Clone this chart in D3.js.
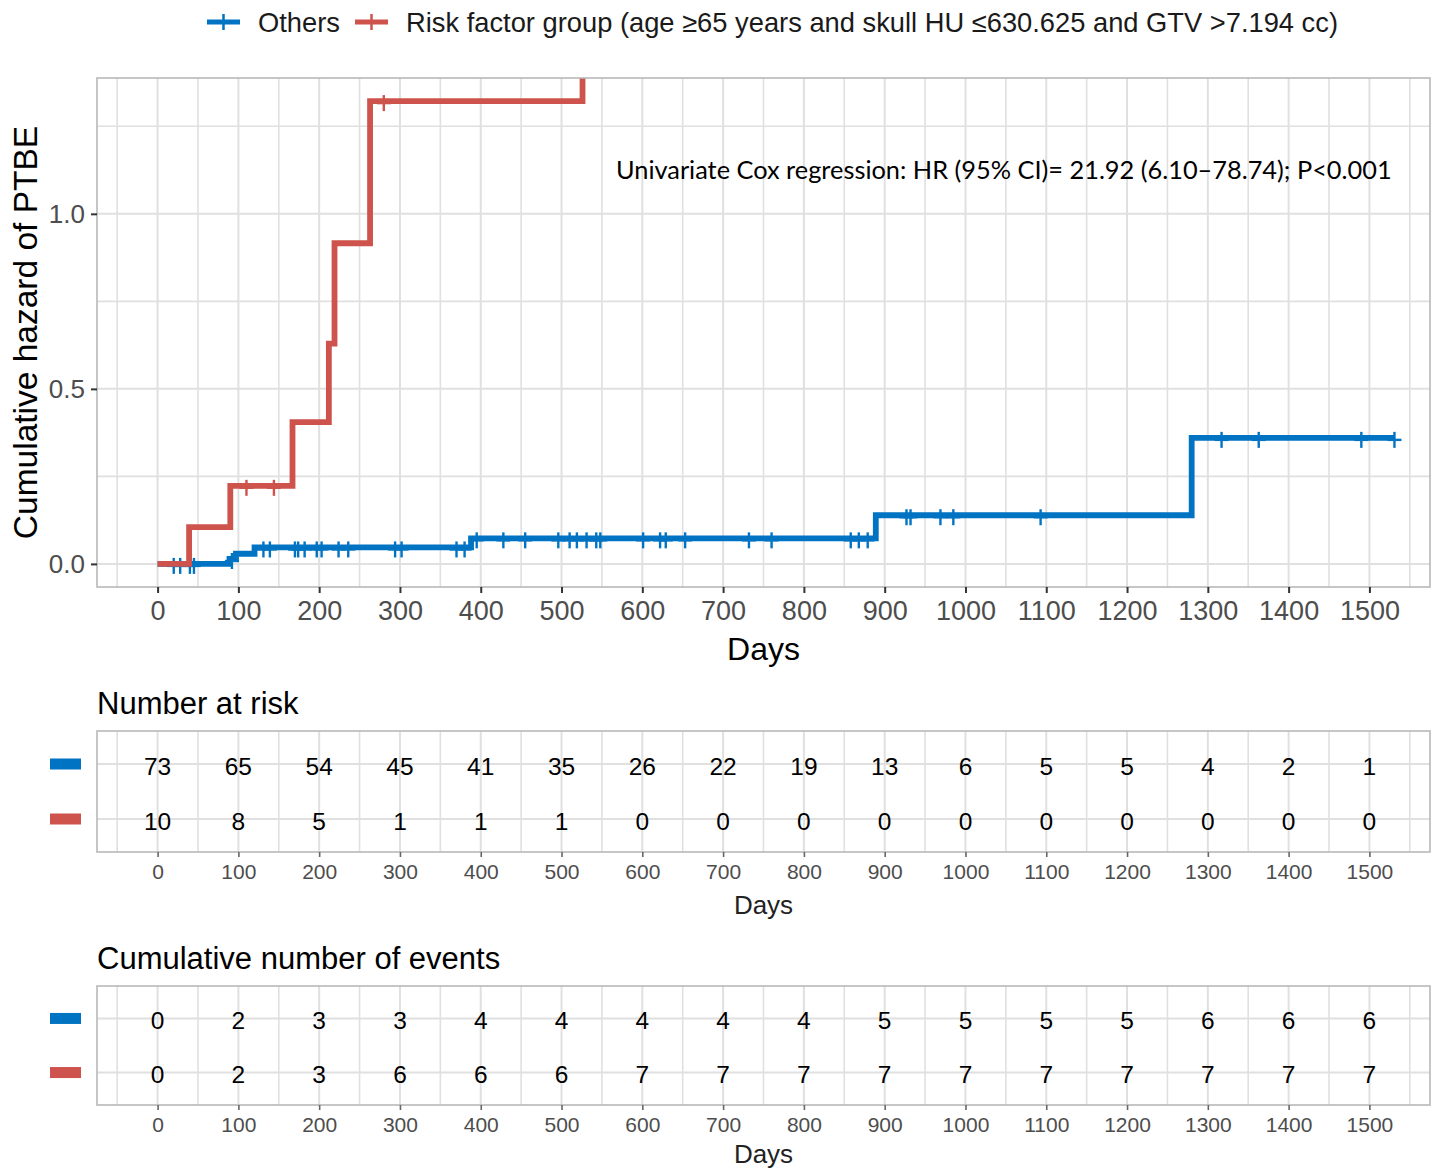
<!DOCTYPE html>
<html>
<head>
<meta charset="utf-8">
<script src="https://cdn.jsdelivr.net/npm/d3@7"></script>
<style>
  html, body { margin: 0; padding: 0; background: #fff; }
  svg { display: block; }
  text { font-family: "Liberation Sans", Arial, sans-serif; }
</style>
</head>
<body>
<svg id="chart" width="1434" height="1170"></svg>
<script>
// ---------------- DATA ----------------
const groups = ["Others", "Risk factor group (age \u226565 years and skull HU \u2264630.625 and GTV >7.194 cc)"];
const groupColors = ["#0073C2", "#CD534C"];
const timeTicks = [0, 100, 200, 300, 400, 500, 600, 700, 800, 900, 1000, 1100, 1200, 1300, 1400, 1500];
const hazardTicks = [0, 0.5, 1.0];

// step curves (time of step, cumulative hazard after the step)
const othersTimes  = [0, 89, 97, 120, 388, 889, 1280, 1531];
const othersHazard = [0, 0.014, 0.029, 0.047, 0.073, 0.139, 0.36, 0.36];
const riskTimes    = [0, 39, 90, 167, 212, 219, 263, 526];
const riskHazard   = [0, 0.105, 0.223, 0.405, 0.629, 0.916, 1.322, Infinity];

// censoring times
const othersCensor = [20, 28, 40, 45, 92, 131, 139, 170, 174, 182, 197, 203, 224, 236, 294, 302,
  370, 380, 395, 428, 455, 496, 510, 519, 531, 543, 548, 601, 622, 629, 653, 732, 760, 858, 868,
  879, 927, 932, 969, 985, 1093, 1317, 1363, 1490, 1531];
const riskCensor = [110, 144, 280];

// tables
const riskOthers   = [73, 65, 54, 45, 41, 35, 26, 22, 19, 13, 6, 5, 5, 4, 2, 1];
const riskRisk     = [10, 8, 5, 1, 1, 1, 0, 0, 0, 0, 0, 0, 0, 0, 0, 0];
const eventsOthers = [0, 2, 3, 3, 4, 4, 4, 4, 4, 5, 5, 5, 5, 6, 6, 6];
const eventsRisk   = [0, 2, 3, 6, 6, 6, 7, 7, 7, 7, 7, 7, 7, 7, 7, 7];

const annotation = "Univariate Cox regression: HR (95% CI)= 21.92 (6.10\u201378.74); P<0.001";

// ---------------- LAYOUT ----------------
const svg = d3.select("#chart");
const L = 97, R = 1430;
const gridCol = "#E0E0E0", borderCol = "#B8B8B8", tickCol = "#333333", tickLabCol = "#4D4D4D";

const x = d3.scaleLinear().domain([-75, 1575]).range([L, R]);
const main = { top: 78, bottom: 587 };
const y = d3.scaleLinear().domain([-0.066, 1.388]).range([main.bottom, main.top]);

const minorX = d3.range(-50, 1575, 100);
const minorY = [0.25, 0.75, 1.25];

// clip
svg.append("defs").append("clipPath").attr("id", "clipMain")
  .append("rect").attr("x", L).attr("y", main.top).attr("width", R - L).attr("height", main.bottom - main.top);

// ---------- main panel ----------
const gMain = svg.append("g");
gMain.append("rect").attr("x", L).attr("y", main.top).attr("width", R - L).attr("height", main.bottom - main.top)
  .attr("fill", "#fff");
gMain.selectAll(".gxm").data(minorX).join("line")
  .attr("x1", d => x(d)).attr("x2", d => x(d)).attr("y1", main.top).attr("y2", main.bottom)
  .attr("stroke", gridCol).attr("stroke-width", 1.6);
gMain.selectAll(".gxM").data(timeTicks).join("line")
  .attr("x1", d => x(d)).attr("x2", d => x(d)).attr("y1", main.top).attr("y2", main.bottom)
  .attr("stroke", gridCol).attr("stroke-width", 2);
gMain.selectAll(".gym").data(minorY).join("line")
  .attr("x1", L).attr("x2", R).attr("y1", d => y(d)).attr("y2", d => y(d))
  .attr("stroke", gridCol).attr("stroke-width", 1.6);
gMain.selectAll(".gyM").data(hazardTicks).join("line")
  .attr("x1", L).attr("x2", R).attr("y1", d => y(d)).attr("y2", d => y(d))
  .attr("stroke", gridCol).attr("stroke-width", 2);

// annotation
const ann = gMain.append("text").attr("x", 616).attr("y", 179)
  .style("font-family", "Lato, 'Open Sans', sans-serif").attr("font-size", 24).attr("fill", "#000")
  .text(annotation);
{
  const w = ann.node().getComputedTextLength();
  ann.attr("font-size", 24 * 776 / w);
}

// curves
const curves = [
  { times: othersTimes, haz: othersHazard, censor: othersCensor, color: groupColors[0] },
  { times: riskTimes, haz: riskHazard, censor: riskCensor, color: groupColors[1] }
];
const yTop = main.top - 20;
const line = d3.line().curve(d3.curveStepAfter)
  .x(d => x(d[0])).y(d => isFinite(d[1]) ? y(d[1]) : yTop);

const gCurves = gMain.append("g").attr("clip-path", "url(#clipMain)");
curves.forEach(c => {
  const pts = c.times.map((t, i) => [t, c.haz[i]]);
  gCurves.append("path").attr("d", line(pts)).attr("fill", "none")
    .attr("stroke", c.color).attr("stroke-width", 5.8).attr("stroke-linejoin", "miter");
  const hazAt = t => { const i = d3.bisectRight(c.times, t) - 1; return c.haz[Math.max(0, i)]; };
  const gc = gCurves.append("g");
  c.censor.forEach(t => {
    const cx = x(t), cy = y(hazAt(t)) + 2;
    gc.append("line").attr("x1", cx).attr("x2", cx).attr("y1", cy - 8).attr("y2", cy + 8)
      .attr("stroke", c.color).attr("stroke-width", 2.4);
    gc.append("line").attr("x1", cx - 7).attr("x2", cx + 7).attr("y1", cy).attr("y2", cy)
      .attr("stroke", c.color).attr("stroke-width", 2.4);
  });
});

gMain.append("rect").attr("x", L).attr("y", main.top).attr("width", R - L).attr("height", main.bottom - main.top)
  .attr("fill", "none").attr("stroke", borderCol).attr("stroke-width", 1.6);

// axes
const xAxisMain = d3.axisBottom(x).tickValues(timeTicks).tickSize(6).tickPadding(8).tickFormat(d3.format("d"));
const gxa = svg.append("g").attr("transform", `translate(0,${main.bottom})`).call(xAxisMain);
gxa.select(".domain").remove();
gxa.selectAll(".tick line").attr("stroke", tickCol).attr("stroke-width", 2);
gxa.selectAll(".tick text").attr("font-size", 27).attr("fill", tickLabCol)
  .style("font-family", "'Liberation Sans', Arial, sans-serif");

const yAxisMain = d3.axisLeft(y).tickValues(hazardTicks).tickSize(6).tickPadding(6).tickFormat(d3.format(".1f"));
const gya = svg.append("g").attr("transform", `translate(${L},0)`).call(yAxisMain);
gya.select(".domain").remove();
gya.selectAll(".tick line").attr("stroke", tickCol).attr("stroke-width", 2);
gya.selectAll(".tick text").attr("font-size", 26).attr("fill", tickLabCol)
  .style("font-family", "'Liberation Sans', Arial, sans-serif");

svg.append("text").attr("x", (L + R) / 2).attr("y", 660).attr("text-anchor", "middle")
  .attr("font-size", 32).attr("fill", "#000").text("Days");
svg.append("text").attr("transform", `translate(37,${(main.top + main.bottom) / 2}) rotate(-90)`)
  .attr("text-anchor", "middle").attr("font-size", 33.5).attr("fill", "#000").text("Cumulative hazard of PTBE");

// legend
const legendItems = [
  { label: groups[0], color: groupColors[0], kx: 207, tx: 258 },
  { label: groups[1], color: groupColors[1], kx: 355, tx: 406 }
];
const gLeg = svg.append("g");
legendItems.forEach(it => {
  gLeg.append("line").attr("x1", it.kx).attr("x2", it.kx + 33).attr("y1", 22).attr("y2", 22)
    .attr("stroke", it.color).attr("stroke-width", 5);
  gLeg.append("line").attr("x1", it.kx + 16.5).attr("x2", it.kx + 16.5).attr("y1", 14).attr("y2", 30)
    .attr("stroke", it.color).attr("stroke-width", 2.5);
  gLeg.append("text").attr("x", it.tx).attr("y", 31.5).attr("font-size", 27.3).attr("fill", "#1a1a1a").text(it.label);
});

// ---------- tables ----------
function drawTable(cfg) {
  const { top, bottom, title, rows, daysY } = cfg;
  const g = svg.append("g");
  const yr = d3.scalePoint().domain(rows.map((r, i) => i)).range([top, bottom]).padding(0.6);
  g.append("text").attr("x", L).attr("y", top - 17).attr("font-size", 31).attr("fill", "#000").text(title);
  g.append("rect").attr("x", L).attr("y", top).attr("width", R - L).attr("height", bottom - top).attr("fill", "#fff");
  g.selectAll(".vm").data(minorX).join("line")
    .attr("x1", d => x(d)).attr("x2", d => x(d)).attr("y1", top).attr("y2", bottom)
    .attr("stroke", gridCol).attr("stroke-width", 1.6);
  g.selectAll(".vM").data(timeTicks).join("line")
    .attr("x1", d => x(d)).attr("x2", d => x(d)).attr("y1", top).attr("y2", bottom)
    .attr("stroke", gridCol).attr("stroke-width", 2);
  g.selectAll(".hM").data(rows).join("line")
    .attr("x1", L).attr("x2", R).attr("y1", (d, i) => yr(i)).attr("y2", (d, i) => yr(i))
    .attr("stroke", gridCol).attr("stroke-width", 2);
  rows.forEach((r, i) => {
    g.selectAll(null).data(r.values).join("text")
      .attr("x", (d, j) => x(timeTicks[j])).attr("y", yr(i) + 2).attr("dy", "0.36em")
      .attr("text-anchor", "middle").attr("font-size", 24.5).attr("fill", "#000").text(d => d);
    g.append("rect").attr("x", 50).attr("y", yr(i) - 5.5).attr("width", 31).attr("height", 11)
      .attr("fill", r.color);
  });
  g.append("rect").attr("x", L).attr("y", top).attr("width", R - L).attr("height", bottom - top)
    .attr("fill", "none").attr("stroke", borderCol).attr("stroke-width", 1.6);
  const ax = d3.axisBottom(x).tickValues(timeTicks).tickSize(5).tickPadding(7).tickFormat(d3.format("d"));
  const ga = svg.append("g").attr("transform", `translate(0,${bottom})`).call(ax);
  ga.select(".domain").remove();
  ga.selectAll(".tick line").attr("stroke", "#666").attr("stroke-width", 1.6);
  ga.selectAll(".tick text").attr("font-size", 21).attr("fill", tickLabCol)
    .style("font-family", "'Liberation Sans', Arial, sans-serif");
  svg.append("text").attr("x", (L + R) / 2).attr("y", daysY).attr("text-anchor", "middle")
    .attr("font-size", 26).attr("fill", "#222").text("Days");
}

drawTable({ top: 731, bottom: 852, title: "Number at risk", daysY: 914,
  rows: [ { values: riskOthers, color: groupColors[0] }, { values: riskRisk, color: groupColors[1] } ] });
drawTable({ top: 986, bottom: 1105, title: "Cumulative number of events", daysY: 1163,
  rows: [ { values: eventsOthers, color: groupColors[0] }, { values: eventsRisk, color: groupColors[1] } ] });
</script>
</body>
</html>
